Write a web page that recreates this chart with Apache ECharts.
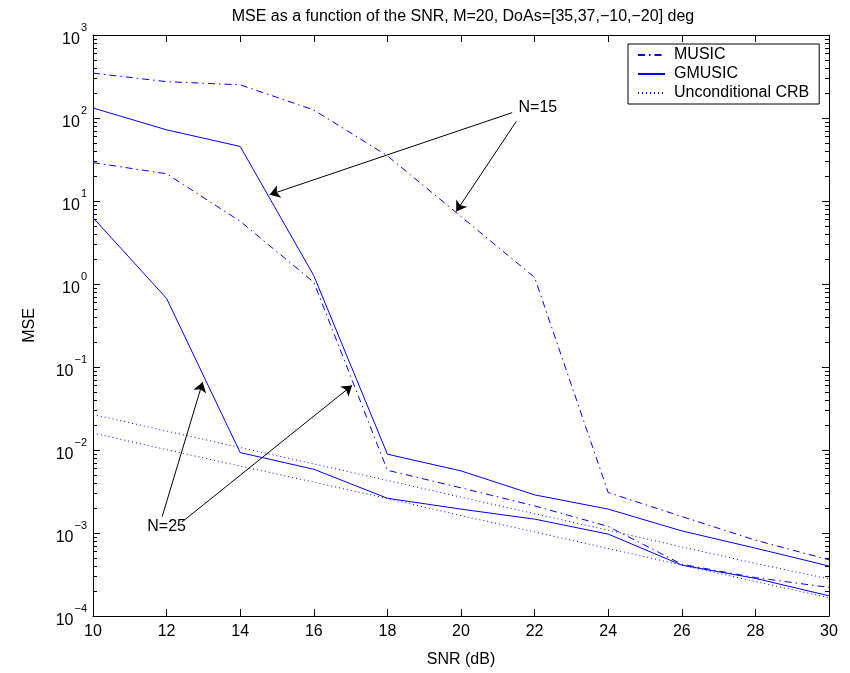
<!DOCTYPE html>
<html>
<head>
<meta charset="utf-8">
<script src="https://cdn.jsdelivr.net/npm/echarts@6/dist/echarts.min.js"></script>
<style>
html,body{margin:0;padding:0;background:#fff;}
#chart{width:850px;height:673px;}
</style>
</head>
<body>
<div id="chart"></div>
<script>
// ---- data ----
const snr = [10, 12, 14, 16, 18, 20, 22, 24, 26, 28, 30];
const music15  = [347, 274, 251, 125, 35, 6.5, 1.2, 0.00307, 0.00158, 0.00082, 0.000475];
const gmusic15 = [132, 72, 45.4, 1.26, 0.0089, 0.0056, 0.00288, 0.00194, 0.00106, 0.000657, 0.00040];
const music25  = [29, 21.3, 5.7, 1.05, 0.0057, 0.0035, 0.00212, 0.0012, 0.00042, 0.00029, 0.000221];
const gmusic25 = [6.3, 0.67, 0.0093, 0.00586, 0.00262, 0.00194, 0.00147, 0.00097, 0.00041, 0.000284, 0.000175];
const crb15    = [0.0268, 0.0169, 0.0107, 0.0068, 0.0043, 0.00270, 0.00171, 0.00108, 0.00068, 0.00043, 0.00028];
const crb25    = [0.0160, 0.0101, 0.0064, 0.0041, 0.0026, 0.00162, 0.00103, 0.00065, 0.00041, 0.00026, 0.000166];
const yMajor = [1e-4, 1e-3, 1e-2, 1e-1, 1, 10, 100, 1000];
const legendNames = ['MUSIC', 'GMUSIC', 'Unconditional CRB'];
const titleText = 'MSE as a function of the SNR, M=20, DoAs=[35,37,\u221210,\u221220] deg';
// annotations: label text, label position, arrows [[x0,y0],[x1,y1]] (data coordinates)
const annotN15 = {text: 'N=15', at: [22.09, 132], arrows: [[[21.39, 116], [14.80, 11.9]], [[21.50, 90.6], [19.87, 7.49]]]};
const annotN25 = {text: 'N=25', at: [12.0, 0.00118], arrows: [[[11.88, 0.00158], [12.98, 0.0658]], [[12.42, 0.00136], [17.04, 0.060]]]};

const yMinor = [];
for (let k = -4; k <= 2; k++) for (let m = 2; m <= 9; m++) yMinor.push(m * Math.pow(10, k));

const FONT = 'Liberation Sans, Arial, Helvetica, sans-serif';
const BLUE = '#0000ff';
const DASHDOT = [7, 4, 1.5, 4];
const DOT = [1, 3];
const pairs = arr => snr.map((x, i) => [x, arr[i]]);

function lineSeries(name, arr, type) {
  return {
    name: name, type: 'line', data: pairs(arr), symbol: 'none',
    xAxisIndex: 0, yAxisIndex: 0,
    lineStyle: {color: BLUE, width: 1, type: type},
    itemStyle: {color: BLUE},
    emphasis: {disabled: true}
  };
}

const chart = echarts.init(document.getElementById('chart'), null, {renderer: 'canvas'});
const supFmt = v => {
  const e = Math.round(Math.log10(v));
  return '{b|10}{s|' + (e < 0 ? '\u2212' + (-e) : e) + '}';
};
const axisCommon = {
  axisLine: {show: true, lineStyle: {color: '#000', width: 1}},
  splitLine: {show: false}
};
const arrowLines = [...annotN15.arrows, ...annotN25.arrows].map(a => [{coord: a[0]}, {coord: a[1]}]);

chart.setOption({
  animation: false,
  backgroundColor: '#fff',
  title: {
    text: titleText, left: 458, top: 4, textAlign: 'center',
    textStyle: {fontFamily: FONT, fontSize: 16, fontWeight: 'normal', color: '#000'}
  },
  grid: {left: 93, right: 21, top: 35, bottom: 56, containLabel: false},
  legend: {
    data: legendNames, orient: 'vertical', left: 628, top: 44,
    backgroundColor: '#fff', borderColor: '#000', borderWidth: 1,
    padding: [3, 10, 3, 9], itemGap: 3, itemWidth: 27, itemHeight: 14,
    itemStyle: {opacity: 0},
    textStyle: {fontFamily: FONT, fontSize: 16, color: '#000', padding: [0, 0, 0, 4]}
  },
  xAxis: [
    Object.assign({}, axisCommon, {
      type: 'value', min: 10, max: 30, interval: 2, position: 'bottom',
      axisTick: {inside: true, length: 7, lineStyle: {color: '#000'}},
      axisLabel: {fontFamily: FONT, fontSize: 16, color: '#000', margin: 8},
      name: 'SNR (dB)', nameLocation: 'middle', nameGap: 36,
      nameTextStyle: {fontFamily: FONT, fontSize: 16, color: '#000'}
    }),
    Object.assign({}, axisCommon, {
      type: 'value', min: 10, max: 30, interval: 2, position: 'top',
      axisTick: {inside: true, length: 7, lineStyle: {color: '#000'}},
      axisLabel: {show: false}
    })
  ],
  yAxis: [
    Object.assign({}, axisCommon, {
      type: 'log', logBase: 10, min: 1e-4, max: 1e3, position: 'left',
      axisTick: {inside: true, length: 7, customValues: yMajor, lineStyle: {color: '#000'}},
      axisLabel: {
        customValues: yMajor, formatter: supFmt, margin: 6,
        rich: {
          b: {fontFamily: FONT, fontSize: 16, color: '#000', verticalAlign: 'bottom', lineHeight: 26},
          s: {fontFamily: FONT, fontSize: 11, color: '#000', verticalAlign: 'top', lineHeight: 26, padding: [0, 0, 0, 1]}
        }
      },
      name: 'MSE', nameLocation: 'middle', nameGap: 55,
      nameTextStyle: {fontFamily: FONT, fontSize: 16, color: '#000'}
    }),
    Object.assign({}, axisCommon, {
      type: 'log', logBase: 10, min: 1e-4, max: 1e3, position: 'right',
      axisTick: {inside: true, length: 7, customValues: yMajor, lineStyle: {color: '#000'}},
      axisLabel: {show: false}
    }),
    {
      type: 'log', logBase: 10, min: 1e-4, max: 1e3, position: 'left',
      axisLine: {show: false}, splitLine: {show: false},
      axisTick: {inside: true, length: 4, customValues: yMinor, lineStyle: {color: '#000'}},
      axisLabel: {show: false}
    },
    {
      type: 'log', logBase: 10, min: 1e-4, max: 1e3, position: 'right',
      axisLine: {show: false}, splitLine: {show: false},
      axisTick: {inside: true, length: 4, customValues: yMinor, lineStyle: {color: '#000'}},
      axisLabel: {show: false}
    }
  ],
  series: [
    lineSeries('MUSIC', music15, DASHDOT),
    lineSeries('GMUSIC', gmusic15, 'solid'),
    lineSeries('Unconditional CRB', crb15, DOT),
    lineSeries('MUSIC', music25, DASHDOT),
    lineSeries('GMUSIC', gmusic25, 'solid'),
    lineSeries('Unconditional CRB', crb25, DOT),
    {
      name: 'annotations', type: 'line', data: [], xAxisIndex: 0, yAxisIndex: 0, silent: true,
      markLine: {
        silent: true, symbol: ['none', 'arrow'], symbolSize: 10,
        lineStyle: {color: '#000', width: 1, type: 'solid'},
        itemStyle: {color: '#000'},
        label: {show: false}, emphasis: {disabled: true},
        data: arrowLines
      },
      markPoint: {
        silent: true, symbol: 'circle', symbolSize: 0,
        label: {show: true, position: 'inside', fontFamily: FONT, fontSize: 16, color: '#000'},
        data: [
          {coord: annotN15.at, value: annotN15.text, label: {formatter: annotN15.text}},
          {coord: annotN25.at, value: annotN25.text, label: {formatter: annotN25.text}}
        ]
      }
    }
  ]
});
</script>
</body>
</html>
